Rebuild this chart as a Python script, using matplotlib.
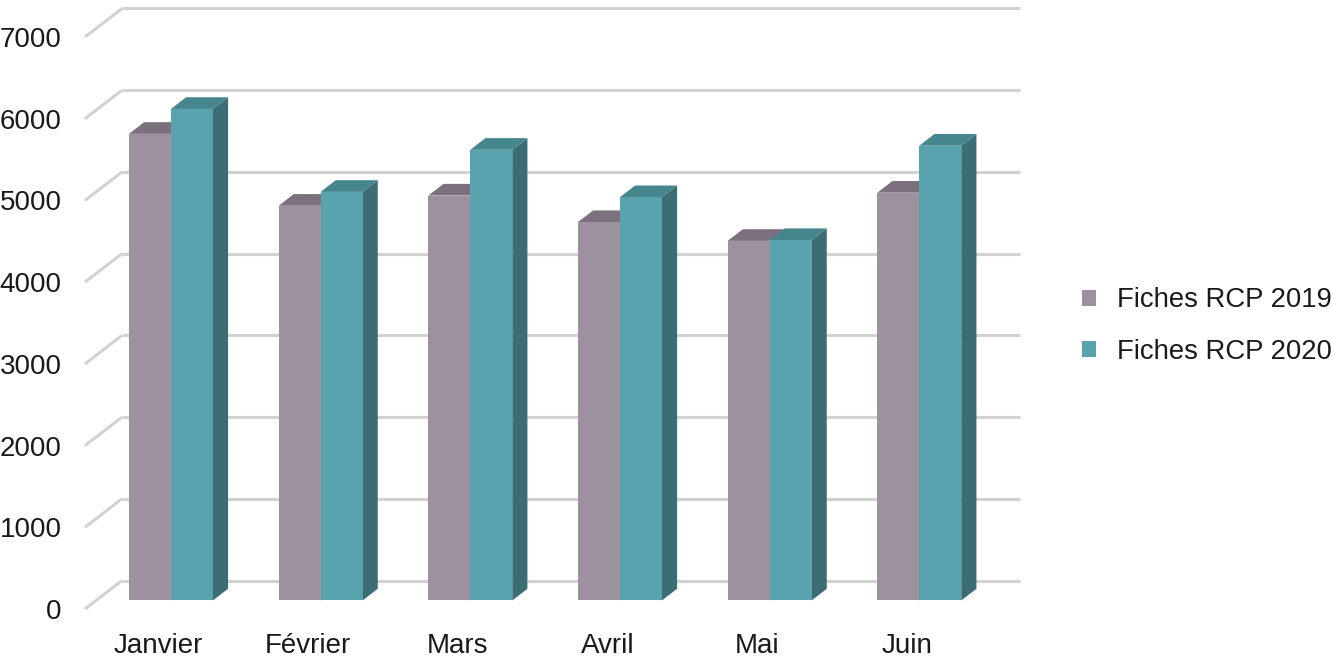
import matplotlib
matplotlib.use("Agg")
import matplotlib.pyplot as plt
from matplotlib.patches import Polygon, Patch

plt.rcParams['font.family'] = ['Liberation Sans', 'DejaVu Sans']

categories = ["Janvier", "Février", "Mars", "Avril", "Mai", "Juin"]
series_names = ["Fiches RCP 2019", "Fiches RCP 2020"]
values_2019 = [5710, 4830, 4955, 4630, 4400, 4990]
values_2020 = [6015, 5000, 5515, 4935, 4410, 5565]
y_ticks = [0, 1000, 2000, 3000, 4000, 5000, 6000, 7000]

front_colors = ["#9D909F", "#59A3AF"]
top_colors = ["#7C707E", "#45868D"]
side_colors = ["#6E6371", "#3C6D74"]
grid_color = "#D2D2D2"

W, H = 1332, 659
fig = plt.figure(figsize=(W / 100, H / 100), dpi=100)
ax = fig.add_axes([0, 0, 1, 1])
ax.set_axis_off()

# pixel mapping of the front plane
px_x0, px_cat = 85.0, 149.67
px_y0, px_val = 609.0, 572.0 / 7000.0
ax.set_xlim((0 - px_x0) / px_cat, (W - px_x0) / px_cat)
ax.set_ylim((px_y0 - H) / px_val, px_y0 / px_val)

DX = 37.0 / px_cat
DV = 28.5 / px_val


def proj(x, v, z):
    return (x + z * DX, v + z * DV)


ncat = len(categories)
# back wall gridlines and left wall depth lines
for t in y_ticks:
    xs, ys = zip(proj(0, t, 1), proj(ncat, t, 1))
    ax.plot(xs, ys, color=grid_color, lw=2.2, zorder=1, solid_capstyle='butt')
    xs, ys = zip(proj(0, t, 0), proj(0, t, 1))
    ax.plot(xs, ys, color=grid_color, lw=2.2, zorder=1, solid_capstyle='butt')
    lx, ly = proj(-0.155, t, 0)
    ax.text(lx, ly - 10 / px_val, f"{t}", ha='right', va='baseline',
            fontsize=20, color='#1a1a1a')

# bars
bw = 0.2805
z0, z1 = 0.3, 0.71
all_vals = [values_2019, values_2020]
zo = 2
for i in range(ncat):
    left0 = i + 0.5 - bw
    for s in range(2):
        v = all_vals[s][i]
        xl = left0 + s * bw
        xr = xl + bw
        side = [proj(xr, 0, z0), proj(xr, 0, z1), proj(xr, v, z1), proj(xr, v, z0)]
        top = [proj(xl, v, z0), proj(xr, v, z0), proj(xr, v, z1), proj(xl, v, z1)]
        front = [proj(xl, 0, z0), proj(xr, 0, z0), proj(xr, v, z0), proj(xl, v, z0)]
        ax.add_patch(Polygon(side, closed=True, facecolor=side_colors[s], edgecolor='none', zorder=zo))
        ax.add_patch(Polygon(top, closed=True, facecolor=top_colors[s], edgecolor='none', zorder=zo))
        ax.add_patch(Polygon(front, closed=True, facecolor=front_colors[s], edgecolor='none', zorder=zo))
        zo += 1

# category labels
for i, c in enumerate(categories):
    ax.text(i + 0.49, (px_y0 - 653) / px_val, c, ha='center', va='baseline',
            fontsize=20, color='#1a1a1a')

handles = [Patch(facecolor=front_colors[s], edgecolor='none', label=series_names[s]) for s in range(2)]
leg = ax.legend(handles=handles, loc='center left',
                bbox_to_anchor=(1082 / W, 1 - 326 / H), bbox_transform=fig.transFigure,
                frameon=False, fontsize=19.8, handlelength=0.52, handleheight=0.52,
                handletextpad=0.75, labelspacing=0.92, borderpad=0, borderaxespad=0)
for t in leg.get_texts():
    t.set_color('#1a1a1a')

fig.savefig("out.png", dpi=100)
